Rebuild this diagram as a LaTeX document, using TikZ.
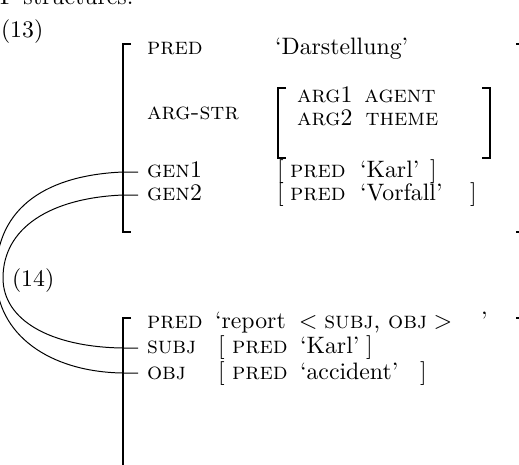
\documentclass[tikz,border=0pt]{standalone}
\usepackage{fontspec}
\begin{document}
\begin{tikzpicture}[x=0.4545pt,y=-0.4545pt,
  every node/.style={font=\fontsize{10.8}{13}\selectfont},
  lbl/.style={anchor=base west, inner sep=0pt, outer sep=0pt},
  brk/.style={line width=0.9pt},
  link/.style={line width=0.45pt}]
\useasboundingbox (0,0) rectangle (519,464);
% header (cut at the top)
\node[lbl] (hdr) at (0,4) {F-structures.};
% ---------- (13) ----------
\node[lbl] (n13) at (1,37) {(13)};
\draw[brk] (131,44) -- (123,44) -- (123,232) -- (131,232);
\draw[brk] (516,44) -- (526,44) -- (526,232) -- (516,232);
\node[lbl] (pred1) at (147,54) {\textsc{pred}};
\node[lbl] (dar) at (275,54) {‘Darstellung’};
\node[lbl] (argstr) at (147,119) {\textsc{arg-str}};
\draw[brk] (286,88) -- (278,88) -- (278,158) -- (286,158);
\draw[brk] (482,88) -- (490,88) -- (490,158) -- (482,158);
\node[lbl] (arg1) at (297,102) {\textsc{arg}1};
\node[anchor=base, inner sep=0pt] (agent) at (400,102) {\textsc{agent}};
\node[lbl] (arg2) at (297,125) {\textsc{arg}2};
\node[anchor=base, inner sep=0pt] (theme) at (402,125) {\textsc{theme}};
\node[lbl] (gen1) at (147,177) {\textsc{gen}1};
\node[lbl] (gen2) at (147,200) {\textsc{gen}2};
\node[lbl] (lbA) at (277,177) {[};
\node[lbl] (pA) at (290,177) {\textsc{pred}};
\node[lbl] (karlA) at (360,177) {‘Karl’};
\node[lbl] (rbA) at (430,177) {]};
\node[lbl] (lbB) at (277,200) {[};
\node[lbl] (pB) at (290,200) {\textsc{pred}};
\node[lbl] (vorf) at (360,200) {‘Vorfall’};
\node[lbl] (rbB) at (470,200) {]};
% ---------- (14) ----------
\node[lbl] (n14) at (12,286) {(14)};
\draw[brk] (131,318) -- (123,318) -- (123,470);
\draw[brk] (516,318) -- (526,318) -- (526,470);
\node[lbl] (pred2) at (147,328) {\textsc{pred}};
\node[lbl] (rep) at (215,328) {‘report\hspace{6pt}$<$\hspace{3pt}\textsc{subj}, \textsc{obj}\hspace{3pt}$>$\hspace{13pt}’};
\node[lbl] (subj) at (147,353) {\textsc{subj}};
\node[lbl] (obj) at (147,379) {\textsc{obj}};
\node[lbl] (lbC) at (218,353) {[};
\node[lbl] (pC) at (232,353) {\textsc{pred}};
\node[lbl] (karlC) at (300,353) {‘Karl’};
\node[lbl] (rbC) at (366,353) {]};
\node[lbl] (lbD) at (218,379) {[};
\node[lbl] (pD) at (232,379) {\textsc{pred}};
\node[lbl] (acc) at (300,379) {‘accident’};
\node[lbl] (rbD) at (420,379) {]};
% link end points
\coordinate (e1) at (138,172);
\coordinate (e2) at (138,195);
\coordinate (e3) at (138,348);
\coordinate (e4) at (138,373);
\draw[link] (e1) -- (123,172) .. controls (50,175) and (-4,205) .. (-4,275)
  .. controls (-4,335) and (50,372) .. (123,373) -- (e4);
\draw[link] (e2) -- (123,195) .. controls (50,198) and (3,228) .. (3,278)
  .. controls (3,320) and (50,347) .. (123,348) -- (e3);
\end{tikzpicture}
\end{document}
